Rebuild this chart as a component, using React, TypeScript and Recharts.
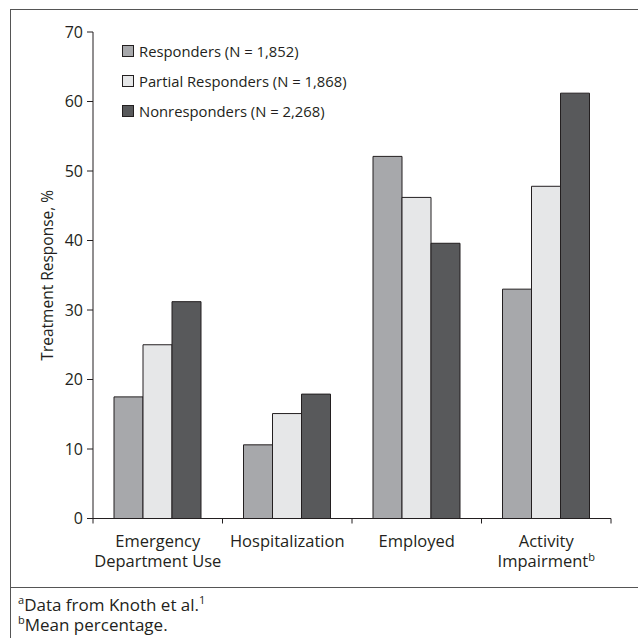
import React from 'react';
import { BarChart, Bar, XAxis, YAxis, Legend } from 'recharts';

const categories = ['Emergency\nDepartment Use', 'Hospitalization', 'Employed', 'Activity\nImpairment'];
const categoryNotes = ['', '', '', 'b'];
const responders = [17.5, 10.6, 52.1, 33.0];
const partialResponders = [25.0, 15.1, 46.2, 47.8];
const nonresponders = [31.2, 17.9, 39.6, 61.2];
const yTicks = [0, 10, 20, 30, 40, 50, 60, 70];

const seriesNames = ['Responders (N = 1,852)', 'Partial Responders (N = 1,868)', 'Nonresponders (N = 2,268)'];
const seriesColors = ['#a7a8ab', '#e6e7e8', '#58595b'];

const data = categories.map((name, i) => ({
  name,
  responders: responders[i],
  partial: partialResponders[i],
  non: nonresponders[i],
}));

const W = 638;
const H = 638;
const margin = { top: 32, right: 27, bottom: 60, left: 0 };
const yAxisWidth = 93;
const xAxisHeight = 59.5;
const plotW = W - margin.left - margin.right - yAxisWidth;
const bandW = plotW / categories.length;
const font = '"Open Sans", sans-serif';
const ink = '#231f20';

const CategoryTick = (props: any) => {
  const { x, y, payload } = props;
  const idx = categories.indexOf(payload.value);
  const lines = String(payload.value).split('\n');
  const note = categoryNotes[idx];
  return (
    <g>
      <line x1={x - bandW / 2} x2={x - bandW / 2} y1={y} y2={y + 5} stroke={ink} strokeWidth={1} />
      {idx === categories.length - 1 && (
        <line x1={x + bandW / 2} x2={x + bandW / 2} y1={y} y2={y + 5} stroke={ink} strokeWidth={1} />
      )}
      <text x={x} y={y + 28.5} textAnchor="middle" fontFamily={font} fontSize={16.5} fill={ink}>
        {lines.map((l, i) => (
          <tspan key={i} x={x} dy={i === 0 ? 0 : 19.5}>
            {l}
            {i === lines.length - 1 && note ? (
              <tspan fontSize={11} dy={-6}>{note}</tspan>
            ) : null}
          </tspan>
        ))}
      </text>
    </g>
  );
};

const LegendContent = () => (
  <div style={{ fontFamily: font, fontSize: 14.8, color: ink }}>
    {seriesNames.map((n, i) => (
      <div key={n} style={{ display: 'flex', alignItems: 'center', height: 30 }}>
        <span
          style={{
            display: 'inline-block',
            width: 10,
            height: 10,
            background: seriesColors[i],
            border: `1px solid ${ink}`,
            marginRight: 5,
          }}
        />
        <span>{n}</span>
      </div>
    ))}
  </div>
);

export default function App() {
  return (
    <div style={{ position: 'absolute', left: 0, top: 0, width: W, height: H, overflow: 'hidden', background: '#fff' }}>
      <div
        style={{
          position: 'absolute',
          left: 10,
          top: 9,
          width: 640,
          height: 640,
          borderLeft: '1.5px solid #555',
          borderTop: '1.5px solid #555',
        }}
      />
      <div style={{ position: 'absolute', left: 10, top: 587, width: 640, borderTop: '1.5px solid #555' }} />
      <BarChart width={W} height={H} data={data} margin={margin} barGap={0} barSize={29}>
        <XAxis
          dataKey="name"
          axisLine={{ stroke: ink, strokeWidth: 1 }}
          tickLine={false}
          tickSize={0}
          tickMargin={0}
          height={xAxisHeight}
          interval={0}
          tick={<CategoryTick />}
        />
        <YAxis
          domain={[0, 70]}
          ticks={yTicks}
          width={yAxisWidth}
          axisLine={{ stroke: ink, strokeWidth: 1 }}
          tickLine={{ stroke: ink, strokeWidth: 1 }}
          tickSize={6}
          tickMargin={4}
          tick={{ fontFamily: font, fontSize: 16, fill: ink }}
          label={{
            value: 'Treatment Response, %',
            angle: -90,
            position: 'center',
            dx: 1,
            style: { fontFamily: font, fontSize: 15.5, fill: ink, textAnchor: 'middle' },
          }}
        />
        <Legend
          content={<LegendContent />}
          layout="vertical"
          verticalAlign="middle"
          align="center"
          wrapperStyle={{ left: 122, top: 36, width: 280 }}
        />
        <Bar dataKey="responders" name={seriesNames[0]} fill={seriesColors[0]} stroke={ink} strokeWidth={1} isAnimationActive={false} />
        <Bar dataKey="partial" name={seriesNames[1]} fill={seriesColors[1]} stroke={ink} strokeWidth={1} isAnimationActive={false} />
        <Bar dataKey="non" name={seriesNames[2]} fill={seriesColors[2]} stroke={ink} strokeWidth={1} isAnimationActive={false} />
      </BarChart>
      <div style={{ position: 'absolute', left: 18, top: 595, fontFamily: font, fontSize: 17, color: ink, lineHeight: '19.5px' }}>
        <div>
          <sup style={{ fontSize: 11, lineHeight: 0 }}>a</sup>Data from Knoth et al.<sup style={{ fontSize: 11, lineHeight: 0 }}>1</sup>
        </div>
        <div>
          <sup style={{ fontSize: 11, lineHeight: 0 }}>b</sup>Mean percentage.
        </div>
      </div>
    </div>
  );
}
